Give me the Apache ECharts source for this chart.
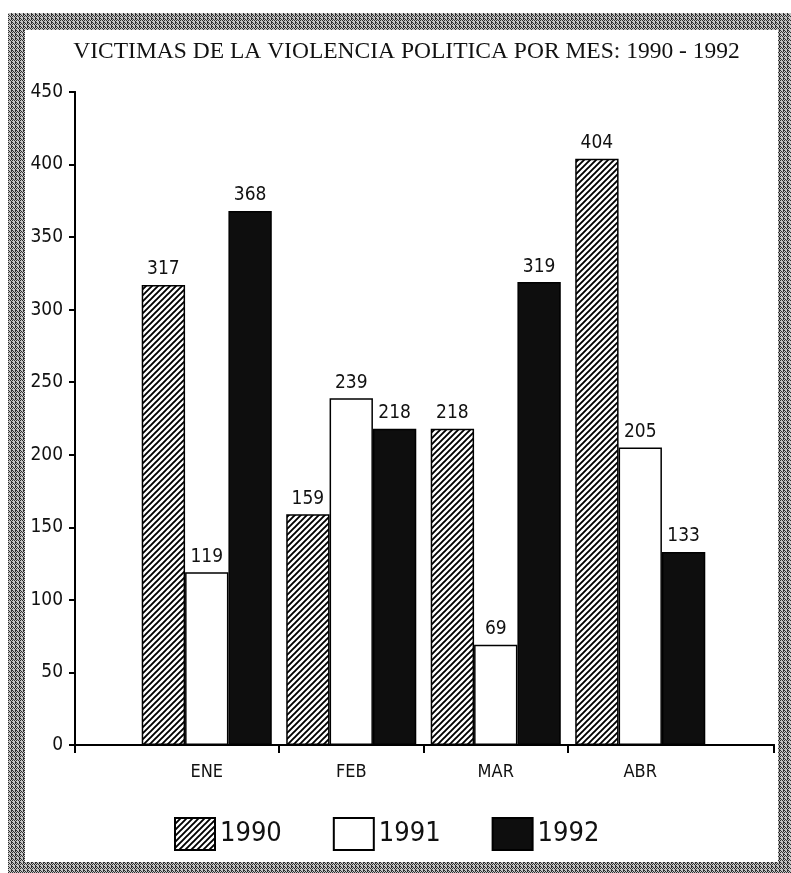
<!DOCTYPE html>
<html>
<head>
<meta charset="utf-8">
<script src="https://cdn.jsdelivr.net/npm/echarts@6/dist/echarts.min.js"></script>
<style>
html,body{margin:0;padding:0;background:#fff;}
#chart{width:791px;height:873px;}
</style>
</head>
<body>
<div id="chart"></div>
<script>
// ---- data ----
const categories = ['ENE', 'FEB', 'MAR', 'ABR'];
const years = ['1990', '1991', '1992'];
const v1990 = [317, 159, 218, 404];
const v1991 = [119, 239, 69, 205];
const v1992 = [368, 218, 319, 133];
const yMin = 0, yMax = 450, yStep = 50;
const titleText = 'VICTIMAS DE LA VIOLENCIA POLITICA POR MES: 1990 - 1992';

// ---- layout ----
const W = 791, H = 873;
const plotL = 75, plotR = 774, plotT = 92, plotB = 745;
const barL = 134.5, barR = 712.5;
const band = (barR - barL) / categories.length;
const NARROW = '"Liberation Sans Narrow","DejaVu Sans Condensed","Arial Narrow",sans-serif';
const INK = '#111';

function hatchPattern() {
  const s = 6;
  const c = document.createElement('canvas');
  c.width = s; c.height = s;
  const g = c.getContext('2d');
  g.fillStyle = '#fff'; g.fillRect(0, 0, s, s);
  g.strokeStyle = '#000'; g.lineWidth = 1.9;
  g.beginPath();
  g.moveTo(-1, s + 1); g.lineTo(s + 1, -1);
  g.moveTo(-1, 1); g.lineTo(1, -1);
  g.moveTo(s - 1, s + 1); g.lineTo(s + 1, s - 1);
  g.stroke();
  return { image: c, repeat: 'repeat' };
}
function ditherPattern() {
  const c = document.createElement('canvas');
  c.width = 4; c.height = 4;
  const g = c.getContext('2d');
  g.fillStyle = '#c4c4c4'; g.fillRect(0, 0, 4, 4);
  g.fillStyle = '#2e2e2e';
  [[0,0],[2,0],[1,1],[3,1],[0,2],[2,2],[1,3],[3,3],[1,0],[3,2]].forEach(function(p, i){
    if (i % 3 !== 2) g.fillRect(p[0], p[1], 1, 1);
  });
  return { image: c, repeat: 'repeat' };
}
const dither = ditherPattern();

const chart = echarts.init(document.getElementById('chart'), null, { renderer: 'canvas' });

const barLabel = { show: true, position: 'top', distance: 6, color: INK, fontFamily: NARROW, fontSize: 19 };
const barBorder = { borderColor: '#000', borderWidth: 1.5 };

const option = {
  animation: false,
  backgroundColor: '#fff',
  title: {
    text: titleText,
    left: 401.5,
    top: 35,
    textAlign: 'center',
    textStyle: { fontFamily: '"Liberation Serif","Times New Roman",serif', fontSize: 23.5, fontWeight: 'normal', color: INK }
  },
  legend: {
    data: years,
    left: 174,
    top: 817,
    itemWidth: 40,
    itemHeight: 32,
    itemGap: 51,
    padding: 0,
    textStyle: { fontFamily: NARROW, fontSize: 27, color: INK },
    icon: 'rect'
  },
  graphic: {
    elements: [
      { type: 'rect', silent: true, shape: { x: 8, y: 13, width: W - 8, height: 17 }, style: { fill: dither } },
      { type: 'rect', silent: true, shape: { x: 8, y: 13, width: 17, height: H - 13 }, style: { fill: dither } },
      { type: 'rect', silent: true, shape: { x: 778, y: 13, width: W - 778, height: H - 13 }, style: { fill: dither } },
      { type: 'rect', silent: true, shape: { x: 8, y: 862, width: W - 8, height: H - 862 }, style: { fill: dither } }
    ]
  },
  grid: [
    { left: plotL, right: W - plotR, top: plotT, bottom: H - plotB },
    { left: barL, right: W - barR, top: plotT, bottom: H - plotB },
    { left: barL + band, right: W - (barR - band), top: plotT, bottom: H - plotB }
  ],
  xAxis: [
    { gridIndex: 0, type: 'value', min: 0, max: 1, interval: 1, position: 'bottom',
      axisLine: { show: true, lineStyle: { color: '#000', width: 2 } },
      axisTick: { show: true, length: 8, lineStyle: { color: '#000', width: 2 } },
      axisLabel: { show: false }, splitLine: { show: false } },
    { gridIndex: 0, type: 'value', min: 0, max: 1, interval: 1, position: 'top',
      axisLine: { show: true, lineStyle: { color: '#000', width: 2 } },
      axisTick: { show: false }, axisLabel: { show: false }, splitLine: { show: false } },
    { gridIndex: 1, type: 'category', data: categories,
      axisLine: { show: false }, axisTick: { show: false },
      axisLabel: { color: INK, fontFamily: NARROW, fontSize: 18, margin: 18 } },
    { gridIndex: 2, type: 'category', data: categories.slice(1, 3),
      axisLine: { show: false },
      axisTick: { show: true, length: 8, lineStyle: { color: '#000', width: 2 } },
      axisLabel: { show: false } }
  ],
  yAxis: [
    { gridIndex: 0, type: 'value', min: yMin, max: yMax, interval: yStep, position: 'left',
      axisLine: { show: true, lineStyle: { color: '#000', width: 2 } },
      axisTick: { show: true, length: 6, lineStyle: { color: '#000', width: 2 } },
      axisLabel: { color: INK, fontFamily: NARROW, fontSize: 19, margin: 12 },
      splitLine: { show: false } },
    { gridIndex: 0, type: 'value', min: yMin, max: yMax, interval: yStep, position: 'right',
      axisLine: { show: true, lineStyle: { color: '#000', width: 2 } },
      axisTick: { show: false }, axisLabel: { show: false }, splitLine: { show: false } },
    { gridIndex: 1, type: 'value', min: yMin, max: yMax, interval: yStep, show: false },
    { gridIndex: 2, type: 'value', min: yMin, max: yMax, interval: yStep, show: false }
  ],
  series: [
    { name: years[0], type: 'bar', xAxisIndex: 2, yAxisIndex: 2, data: v1990,
      barGap: '0%', barCategoryGap: '10%',
      itemStyle: Object.assign({ color: hatchPattern() }, barBorder), label: barLabel },
    { name: years[1], type: 'bar', xAxisIndex: 2, yAxisIndex: 2, data: v1991,
      barGap: '0%', barCategoryGap: '10%',
      itemStyle: Object.assign({ color: '#fff' }, barBorder), label: barLabel },
    { name: years[2], type: 'bar', xAxisIndex: 2, yAxisIndex: 2, data: v1992,
      barGap: '0%', barCategoryGap: '10%',
      itemStyle: Object.assign({ color: '#0e0e0e' }, barBorder), label: barLabel }
  ]
};
chart.setOption(option);
</script>
</body>
</html>
